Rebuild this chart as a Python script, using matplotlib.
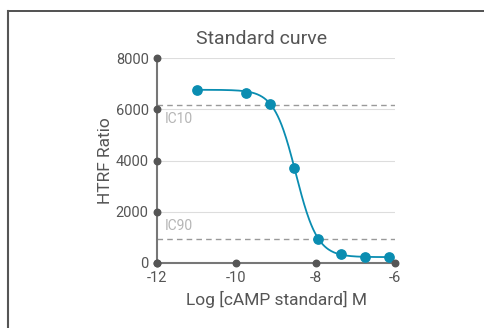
import matplotlib
matplotlib.use("Agg")
import matplotlib.pyplot as plt
import numpy as np
from matplotlib.lines import Line2D

plt.rcParams['font.family'] = ['Roboto', 'DejaVu Sans']
plt.rcParams['axes.unicode_minus'] = False

# standard points (log M, HTRF ratio)
log_conc = [-11.0, -9.75, -9.15, -8.55, -7.95, -7.35, -6.75, -6.15]
ratio = [6760, 6640, 6200, 3720, 940, 350, 240, 230]

# 4PL fit parameters
top, bottom, log_ic50, hill = 6760, 230, -8.5, 1.6
ic10, ic90 = 6160, 930

x_ticks = [-12, -10, -8, -6]
y_ticks = [0, 2000, 4000, 6000, 8000]

teal = "#0a8db1"
dark = "#555555"

fig = plt.figure(figsize=(4.84, 3.28), dpi=100)
ax = fig.add_axes([157 / 484, 1 - 263 / 328, 238 / 484, 205 / 328])

# frame lines of the cropped box
fig.add_artist(Line2D([8 / 484, 1], [1 - 11 / 328, 1 - 11 / 328], color="#333333", lw=1.2))
fig.add_artist(Line2D([8 / 484, 8 / 484], [0, 1 - 11 / 328], color="#555555", lw=1.5))

xs = np.linspace(log_conc[0], log_conc[-1], 300)
curve = bottom + (top - bottom) / (1 + 10 ** (hill * (xs - log_ic50)))
ax.plot(xs, curve, color=teal, lw=1.3, zorder=3)
ax.scatter(log_conc, ratio, s=45, color=teal, zorder=4, clip_on=False)

for y in y_ticks[1:]:
    ax.axhline(y, color="#dddddd", lw=0.8, zorder=0)
ax.axhline(ic10, color="#999999", lw=1, ls=(0, (4, 3)), zorder=1)
ax.axhline(ic90, color="#999999", lw=1, ls=(0, (4, 3)), zorder=1)
ax.text(-11.8, ic10 - 250, "IC10", color="#b5b5b5", fontsize=10, va="top", ha="left")
ax.text(-11.8, ic90 + 250, "IC90", color="#b5b5b5", fontsize=10, va="bottom", ha="left")

ax.set_xlim(-12, -6)
ax.set_ylim(0, 8000)
ax.set_xticks(x_ticks)
ax.set_yticks(y_ticks)
ax.tick_params(length=0, labelsize=10.5, colors=dark, pad=6)
for s in ["top", "right"]:
    ax.spines[s].set_visible(False)
ax.spines["left"].set_color("#777777")
ax.spines["bottom"].set_color("#777777")
ax.spines["left"].set_linewidth(1.5)
ax.spines["bottom"].set_linewidth(1.5)

# dots on the tick positions
ax.scatter([-12] * len(y_ticks), y_ticks, s=22, color="#555555", zorder=5, clip_on=False)
ax.scatter(x_ticks, [0] * len(x_ticks), s=22, color="#555555", zorder=5, clip_on=False)

ax.set_title("Standard curve", fontsize=14, color=dark, x=0.44, pad=10)
ax.set_xlabel("Log [cAMP standard] M", fontsize=12.5, color=dark, labelpad=4)
ax.set_ylabel("HTRF Ratio", fontsize=12.5, color=dark, labelpad=2)

fig.savefig("out.png", dpi=100)
